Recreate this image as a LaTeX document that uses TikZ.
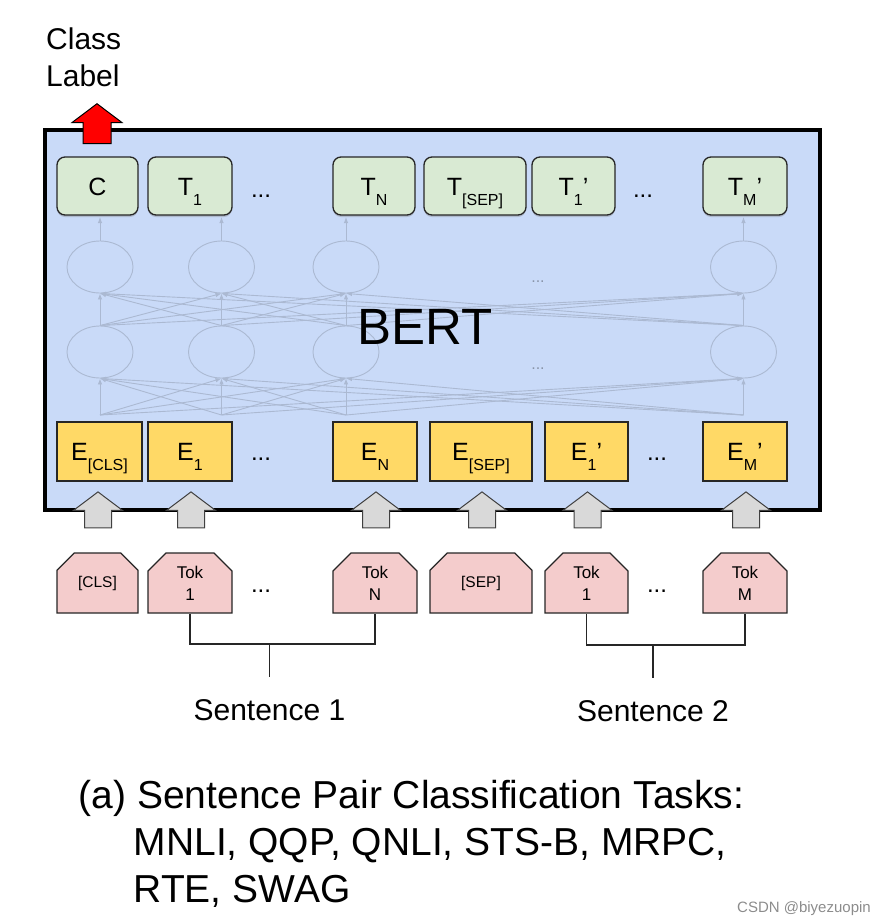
\documentclass[tikz,border=0pt]{standalone}
\usepackage{fontspec}
\setmainfont{Liberation Sans}
\usetikzlibrary{arrows.meta,positioning,shapes.misc,shapes.arrows,shapes.geometric,shadows}
\definecolor{bertblue}{HTML}{C9DAF8}
\definecolor{outgreen}{HTML}{D9EAD3}
\definecolor{embyellow}{HTML}{FFD966}
\definecolor{tokpink}{HTML}{F4CCCC}
\definecolor{arrgray}{HTML}{D9D9D9}
\definecolor{netgray}{HTML}{ABB9D2}
\newcommand{\fsz}[2]{\fontsize{#1}{#2}\selectfont}
\newcommand{\lowidx}[1]{\raisebox{-10pt}{\fsz{16}{16}#1}}
\tikzset{
  outbox/.style ={draw=black!85, fill=outgreen, rounded corners=8pt, line width=1.3pt,
                  inner sep=0pt, minimum height=58pt, text height=18pt, text depth=0pt,
                  font=\fsz{25}{28},
                  drop shadow={shadow xshift=0pt, shadow yshift=-2pt, opacity=.35}},
  embbox/.style ={draw=black!85, fill=embyellow, line width=1.3pt, inner sep=0pt,
                  minimum height=59pt, text height=17pt, text depth=0pt, font=\fsz{25}{28}},
  tokbox/.style ={chamfered rectangle, chamfered rectangle corners={north west,north east},
                  chamfered rectangle xsep=8pt, chamfered rectangle ysep=10pt,
                  draw=black!85, fill=tokpink, line width=1.3pt, inner sep=0pt,
                  minimum height=60pt, align=center, font=\fsz{17}{22}},
  uparrow/.style ={single arrow, rotate=90, draw=black!75, fill=arrgray, line width=1pt,
                  inner xsep=0pt, inner ysep=13pt, single arrow head extend=11pt,
                  single arrow tip angle=106, minimum height=36pt},
  neuron/.style ={ellipse, draw=netgray, line width=.9pt, minimum width=66pt,
                  minimum height=52pt, inner sep=0pt},
  net/.style    ={draw=netgray, line width=.9pt, -{Latex[length=6pt,width=4.5pt]}},
  dotlbl/.style ={font=\fsz{24}{24}, anchor=base, inner sep=0pt},
  lbl/.style    ={font=\fsz{30}{36.5}, align=left, inner sep=0pt},
  brk/.style    ={draw=black!85, line width=1.2pt},
}
\begin{document}
\begin{tikzpicture}[x=1pt, y=-1pt]
\useasboundingbox (0,0) rectangle (885,924);
% BERT block
\node[draw, line width=4pt, fill=bertblue, minimum width=775pt, minimum height=380pt, inner sep=0pt] (bertbox) at (432.5,320) {};
% faint network
\foreach \c/\x in {1/100,2/221.5,3/346,4/743.5} {
  \node[neuron] (lo\c) at (\x,352) {};
  \node[neuron] (up\c) at (\x,267) {};
  \coordinate (in\c) at (\x,415);
  \coordinate (op\c) at (\x,217);
}
\foreach \i in {1,...,4} {
  \foreach \j in {1,...,4} {
    \draw[net] (in\i) -- (lo\j.south);
    \draw[net] (lo\i.north) -- (up\j.south);
  }
  \draw[net] (up\i.north) -- (op\i);
}
\node[font=\fsz{16}{16}, text=netgray!80!black, inner sep=0pt] (nd1) at (538,282) {...};
\node[font=\fsz{16}{16}, text=netgray!80!black, inner sep=0pt] (nd2) at (538,369) {...};
\node[font=\fsz{51}{51}, anchor=base, inner sep=0pt] (bert) at (425,344) {BERT};
% outputs
\node[outbox, minimum width=81pt] (tC) at (97.5,186) {C};
\node[outbox, minimum width=84pt] (tT1) at (190,186) {T\lowidx{1}};
\node[outbox, minimum width=82pt] (tTN) at (374,186) {T\lowidx{N}};
\node[outbox, minimum width=102pt] (tTsep) at (475,186) {T\lowidx{[SEP]}};
\node[outbox, minimum width=83pt] (tT1p) at (573.5,186) {T\lowidx{1}’};
\node[outbox, minimum width=84pt] (tTMp) at (745,186) {T\lowidx{M}’};
\node[dotlbl] (dt1) at (261,197) {...};
\node[dotlbl] (dt2) at (643,197) {...};
% embeddings
\node[embbox, minimum width=85pt] (eCLS) at (99.5,451.5) {E\lowidx{[CLS]}};
\node[embbox, minimum width=84pt] (eE1) at (190,451.5) {E\lowidx{1}};
\node[embbox, minimum width=84pt] (eEN) at (375,451.5) {E\lowidx{N}};
\node[embbox, minimum width=102pt] (eSEP) at (481,451.5) {E\lowidx{[SEP]}};
\node[embbox, minimum width=83pt] (eE1p) at (586.5,451.5) {E\lowidx{1}’};
\node[embbox, minimum width=84pt] (eEMp) at (745,451.5) {E\lowidx{M}’};
\node[dotlbl] (de1) at (261,460) {...};
\node[dotlbl] (de2) at (657,460) {...};
% input tokens
\node[tokbox, minimum width=81pt, font=\fsz{15.5}{18}] (kCLS) at (97.5,583) {[CLS]};
\node[tokbox, minimum width=84pt] (kT1) at (190,583) {Tok\\1};
\node[tokbox, minimum width=84pt] (kTN) at (375,583) {Tok\\N};
\node[tokbox, minimum width=102pt, font=\fsz{15.5}{18}] (kSEP) at (481,583) {[SEP]};
\node[tokbox, minimum width=83pt] (kT1p) at (586.5,583) {Tok\\1};
\node[tokbox, minimum width=84pt] (kTMp) at (745,583) {Tok\\M};
\node[dotlbl] (dk1) at (261,592) {...};
\node[dotlbl] (dk2) at (657,592) {...};
% block arrows into BERT
\node[uparrow] (aCLS) at (98,515) {};
\node[uparrow] (aT1) at (191,515) {};
\node[uparrow] (aTN) at (376,515) {};
\node[uparrow] (aSEP) at (482,515) {};
\node[uparrow] (aT1p) at (587.5,515) {};
\node[uparrow] (aTMp) at (746,515) {};
% class label
\node[uparrow, fill=red, draw=black, minimum height=40pt, inner ysep=13.5pt] (aout) at (97,129) {};
\node[lbl, anchor=north west] (cls) at (46,28) {Class\\Label};
% sentences
\coordinate (s1top) at (269.5,644);
\coordinate (s1end) at (269.5,677);
\draw[brk] (kT1.south) |- (s1top) -| (kTN.south);
\draw[brk] (s1top) -- (s1end);
\node[lbl, below=22pt of s1end] (sent1) {Sentence 1};
\coordinate (s2top) at (653,645);
\coordinate (s2end) at (653,678);
\draw[brk] (kT1p.south) |- (s2top) -| (kTMp.south);
\draw[brk] (s2top) -- (s2end);
\node[lbl, below=22pt of s2end] (sent2) {Sentence 2};
% caption
\node[font=\fsz{39}{47}, align=left, anchor=north west, inner sep=0pt] (cap) at (78.5,780)
  {(a) Sentence Pair Classification Tasks:\\\hspace*{55pt}MNLI, QQP, QNLI, STS-B, MRPC,\\\hspace*{55pt}RTE, SWAG};
\node[font=\fsz{15}{15}, text=black!45, anchor=base east, inner sep=0pt] (wm) at (871,912) {CSDN @biyezuopin};
\end{tikzpicture}
\end{document}
